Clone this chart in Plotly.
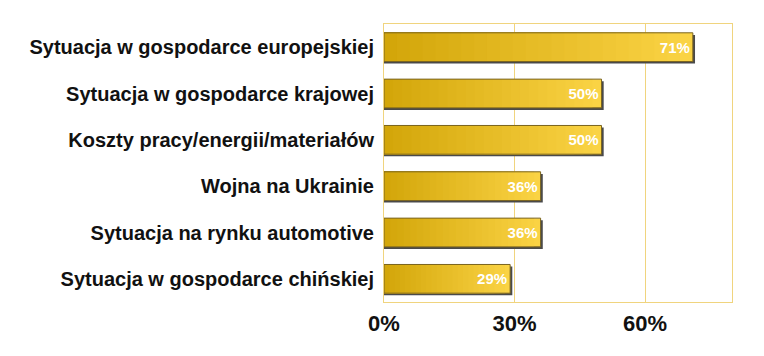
import plotly.graph_objects as go

categories = [
    "Sytuacja w gospodarce europejskiej",
    "Sytuacja w gospodarce krajowej",
    "Koszty pracy/energii/materiałów",
    "Wojna na Ukrainie",
    "Sytuacja na rynku automotive",
    "Sytuacja w gospodarce chińskiej",
]
values = [71, 50, 50, 36, 36, 29]
x_ticks = [0, 30, 60]
x_tick_labels = ["0%", "30%", "60%"]

BAR_W = 0.62
dark = (0xD3, 0xA6, 0x0A)
light = (0xFA, 0xD3, 0x44)
N = 24

fig = go.Figure()

# shadow
fig.add_trace(go.Bar(
    y=categories, x=[v + 0.5 for v in values], orientation="h",
    width=BAR_W, offset=-BAR_W / 2 + 0.045,
    marker=dict(color="#4a4a4a", line=dict(width=0)),
    hoverinfo="skip", showlegend=False,
))

# gradient layers
for k in range(N):
    t = k / (N - 1)
    c = tuple(round(light[i] + (dark[i] - light[i]) * t) for i in range(3))
    fig.add_trace(go.Bar(
        y=categories, x=[v * (N - k) / N for v in values], orientation="h",
        width=BAR_W, offset=-BAR_W / 2,
        marker=dict(color="rgb(%d,%d,%d)" % c, line=dict(width=0)),
        hoverinfo="skip", showlegend=False,
    ))

# outline + labels
fig.add_trace(go.Bar(
    y=categories, x=values, orientation="h",
    width=BAR_W, offset=-BAR_W / 2,
    marker=dict(color="rgba(0,0,0,0)", line=dict(color="#7a6420", width=1)),
    text=[f"{v}%" for v in values],
    textposition="inside", insidetextanchor="end",
    textfont=dict(family="Liberation Sans, Arial", size=15, color="white", weight="bold"),
    showlegend=False,
))

fig.update_layout(
    width=764, height=356,
    margin=dict(l=376, r=40, t=16, b=62),
    barmode="overlay",
    plot_bgcolor="white", paper_bgcolor="white",
    font=dict(family="Liberation Sans, Arial", color="#111"),
    xaxis=dict(
        range=[0, 80], tickvals=x_ticks, ticktext=x_tick_labels,
        showgrid=True, gridcolor="#F0D47E", gridwidth=1,
        zeroline=False, showline=True, mirror=True, linecolor="#F0D47E", linewidth=1,
        tickfont=dict(size=22, color="#111", weight="bold"),
        ticks="", ticklabelstandoff=2,
    ),
    yaxis=dict(
        autorange="reversed", showgrid=False, zeroline=False,
        showline=True, mirror=True, linecolor="#F0D47E", linewidth=1,
        tickfont=dict(size=20, color="#111", weight="bold"),
        ticks="", ticklabelstandoff=5,
    ),
)

fig.write_html("out.html")
